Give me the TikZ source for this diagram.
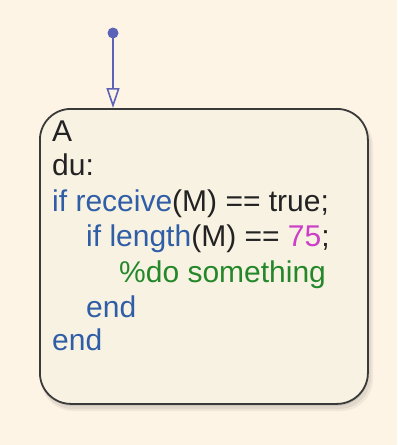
\documentclass[tikz,border=0pt]{standalone}
\usepackage{fontspec}
\setmainfont{Liberation Sans}
\usetikzlibrary{arrows.meta}
\definecolor{bgc}{HTML}{FDF4E5}
\definecolor{boxc}{HTML}{F8F2E3}
\definecolor{edgec}{HTML}{3A3A3A}
\definecolor{kw}{HTML}{2F5DA6}
\definecolor{txt}{HTML}{222222}
\definecolor{num}{HTML}{CC3FC6}
\definecolor{cmt}{HTML}{24882A}
\definecolor{trc}{HTML}{5C62B8}
\tikzset{
  codeline/.style={anchor=base west, inner sep=0pt, font=\fontsize{30}{35}\selectfont, text=txt},
  trans/.style={draw=trc, line width=1.8pt, -{Triangle[open, length=20pt, width=13pt, line width=1.6pt]}},
  shade layer/.style={fill=black, opacity=#1, rounded corners=32pt},
}
\begin{document}
\begin{tikzpicture}[x=1pt,y=-1pt]
\useasboundingbox (0,0) rectangle (397,445);
\fill[bgc] (0,0) rectangle (397,445);
% soft shadow
\fill[shade layer=0.05] (41,114) rectangle (373,411);
\fill[shade layer=0.06] (41,113) rectangle (371,409);
\fill[shade layer=0.08] (41,112) rectangle (369,406);
% state box
\node[draw=edgec, line width=1.8pt, fill=boxc, rounded corners=31pt, minimum width=328pt, minimum height=295pt, inner sep=0pt, anchor=north west] (stateA) at (39,108) {};
% text
\node[codeline] (lA) at (52,141) {A};
\node[codeline] (ldu) at (52,175) {du:};
\node[codeline] (l1) at (52,211) {\textcolor{kw}{if receive}(M) == true;};
\node[codeline] (l2) at (86,246) {\textcolor{kw}{if length}(M) == \textcolor{num}{75};};
\node[codeline, text=cmt] (l3) at (119,282) {\%do something};
\node[codeline, text=kw] (l4) at (86,317) {end};
\node[codeline, text=kw] (l5) at (52,350) {end};
% default transition
\coordinate (src) at (113,33);
\fill[trc] (src) circle (5.5pt);
\draw[trans] (src) -- (src |- stateA.north);
\end{tikzpicture}
\end{document}
